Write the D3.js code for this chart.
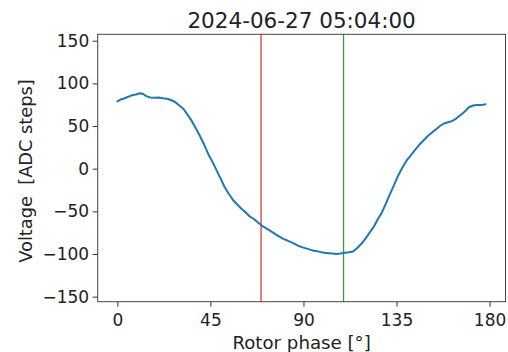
<!DOCTYPE html>
<html>
<head>
<meta charset="utf-8">
<script src="https://cdn.jsdelivr.net/npm/d3@7"></script>
<style>
  html, body { margin: 0; padding: 0; background: #fff; }
  svg { display: block; font-family: "DejaVu Sans", sans-serif; }
</style>
</head>
<body>
<svg id="chart" width="508" height="352"></svg>
<script>
const title = "2024-06-27 05:04:00";
const xLabel = "Rotor phase [°]";
const yLabel = "Voltage\u00a0\u00a0[ADC steps]";
const xTicks = [0, 45, 90, 135, 180];
const yTicks = [-150, -100, -50, 0, 50, 100, 150];
const markerRed = 69.5;
const markerGreen = 109.4;

const phase = [0,1.5,3,5,7,9,11,12.5,14,16,18,20,22,24,26,28,30,32,34,36,38,40,42,44,46,48,50,52,54,56,58,60,62,64,66,68,70,72,74,76,78,80,82,84,86,88,90,92,94,96,98,100,102,104,106,108,110,112,114,116,118,120,122,124,126,128,130,132,134,136,138,140,142,144,146,148,150,152,154,156,158,160,162,164,166,168,170,172,174,176,178];
const voltage = [79,81,82,84,86,87,88.5,87.5,85,83.5,83,83.5,82.5,82,80.5,78,74,70,63,56,47,38,28,17,8,-2,-12,-22,-30,-37,-42,-47,-51,-56,-59,-63,-67,-70,-73,-76,-79,-82,-84,-86,-88.5,-91,-92.5,-94,-95.5,-96.5,-97.5,-98.5,-99,-99.5,-100,-99.5,-98.5,-98,-97,-93,-88,-82,-75,-68,-59,-51,-40,-29,-18,-7,2,10,16,22,28,33,38,42,46,50,53,54.5,56,59,63,67,72,74,74.5,74.5,75.5];

const svg = d3.select("#chart");
const L = 97.7, R = 505.5, T = 34.3, B = 301.7;

const x = d3.scaleLinear().domain([-9.5, 187.7]).range([L, R]);
const y = d3.scaleLinear().domain([-155.9, 157.5]).range([B, T]);

// axes
const xAxis = d3.axisBottom(x).tickValues(xTicks).tickSize(5).tickPadding(7).tickFormat(d3.format("d"));
const yAxis = d3.axisLeft(y).tickValues(yTicks).tickSize(5).tickPadding(3.5).tickFormat(d => d < 0 ? "\u2212" + Math.abs(d) : d);

const gx = svg.append("g").attr("transform", `translate(0,${B})`).call(xAxis);
const gy = svg.append("g").attr("transform", `translate(${L},0)`).call(yAxis);
[gx, gy].forEach(g => {
  g.select(".domain").remove();
  g.selectAll("line").attr("stroke", "#333").attr("stroke-width", 1);
  g.selectAll("text").attr("font-family", "DejaVu Sans").attr("font-size", 17).attr("fill", "#222");
});

// markers
svg.append("line").attr("x1", x(markerRed)).attr("x2", x(markerRed)).attr("y1", T).attr("y2", B)
  .attr("stroke", "#d62728").attr("stroke-width", 1.2);
svg.append("line").attr("x1", x(markerGreen)).attr("x2", x(markerGreen)).attr("y1", T).attr("y2", B)
  .attr("stroke", "#2ca02c").attr("stroke-width", 1.2);

// data line
const data = phase.map((p, i) => [p, voltage[i]]);
svg.append("path").datum(data)
  .attr("fill", "none").attr("stroke", "#1f77b4").attr("stroke-width", 2)
  .attr("stroke-linejoin", "round").attr("stroke-linecap", "round")
  .attr("d", d3.line().x(d => x(d[0])).y(d => y(d[1])));

// frame
svg.append("rect").attr("x", L).attr("y", T).attr("width", R - L).attr("height", B - T)
  .attr("fill", "none").attr("stroke", "#444").attr("stroke-width", 1);

// title & labels
svg.append("text").attr("x", (L + R) / 2).attr("y", 27.5).attr("text-anchor", "middle")
  .attr("font-size", 21.5).attr("fill", "#222").text(title);
svg.append("text").attr("x", (L + R) / 2).attr("y", 349).attr("text-anchor", "middle")
  .attr("font-size", 18.2).attr("fill", "#222").text(xLabel);
svg.append("text").attr("transform", `translate(31.5,171) rotate(-90)`).attr("text-anchor", "middle")
  .attr("font-size", 17.8).attr("fill", "#222").text(yLabel);
</script>
</body>
</html>
